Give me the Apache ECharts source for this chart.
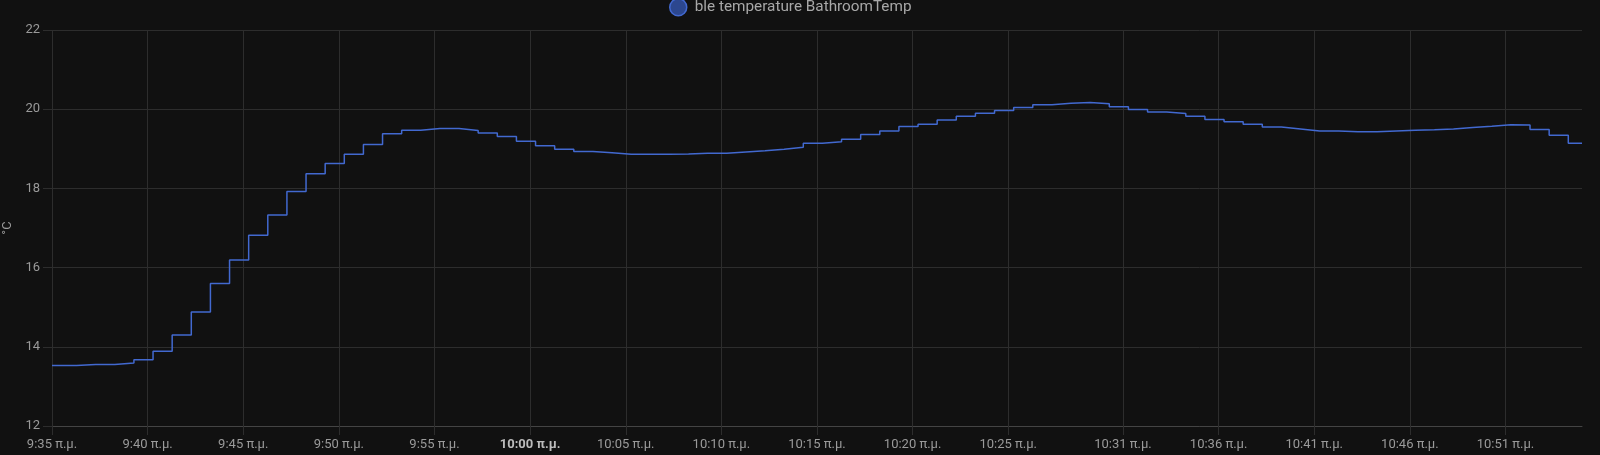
<!DOCTYPE html>
<html>
<head>
<meta charset="utf-8">
<script src="https://cdn.jsdelivr.net/npm/echarts@6/dist/echarts.min.js"></script>
<style>
html,body{margin:0;padding:0;background:#111111;}
#chart{width:1600px;height:455px;}
</style>
</head>
<body>
<div id="chart"></div>
<script>
const seriesName = 'ble temperature BathroomTemp';
const unit = '°C';
const startTime = '9:35:00';
const endTime = '10:55:00';
const tickTimes = ['9:35','9:40','9:45','9:50','9:55','10:00','10:05','10:10','10:15','10:20','10:25','10:31','10:36','10:41','10:46','10:51'];
const tickSuffix = ' π.μ.';
const times = [
 '9:35:00','9:36:17','9:37:17','9:38:17','9:39:17','9:40:17','9:41:17','9:42:17','9:43:17','9:44:17',
 '9:45:17','9:46:17','9:47:17','9:48:17','9:49:17','9:50:17','9:51:17','9:52:17','9:53:17','9:54:17',
 '9:55:17','9:56:17','9:57:17','9:58:17','9:59:17','10:00:17','10:01:17','10:02:17','10:03:17','10:04:17',
 '10:05:17','10:06:17','10:07:17','10:08:17','10:09:17','10:10:17','10:11:17','10:12:17','10:13:17','10:14:17',
 '10:15:17','10:16:17','10:17:17','10:18:17','10:19:17','10:20:17','10:21:17','10:22:17','10:23:17','10:24:17',
 '10:25:17','10:26:17','10:27:17','10:28:17','10:29:17','10:30:17','10:31:17','10:32:17','10:33:17','10:34:17',
 '10:35:17','10:36:17','10:37:17','10:38:17','10:39:17','10:40:17','10:41:17','10:42:17','10:43:17','10:44:17',
 '10:45:17','10:46:17','10:47:17','10:48:17','10:49:17','10:50:17','10:51:17','10:52:17','10:53:17','10:54:17',
 '10:55:00'
];
const temps = [
 13.53,13.55,13.55,13.59,13.67,13.89,14.30,14.88,15.60,16.19,
 16.82,17.33,17.92,18.37,18.63,18.86,19.11,19.38,19.47,19.51,
 19.51,19.46,19.40,19.31,19.19,19.08,18.99,18.93,18.90,18.86,
 18.86,18.86,18.87,18.89,18.89,18.92,18.95,18.99,19.04,19.14,
 19.18,19.24,19.36,19.45,19.56,19.62,19.73,19.82,19.90,19.97,
 20.04,20.11,20.15,20.17,20.14,20.06,19.99,19.93,19.89,19.82,
 19.74,19.68,19.62,19.55,19.50,19.45,19.45,19.43,19.43,19.45,
 19.47,19.48,19.50,19.54,19.57,19.61,19.60,19.49,19.34,19.14,
 19.14
];
const boldTick = '10:00';

function toMin(s){
  const p = s.split(':').map(Number);
  const b = startTime.split(':').map(Number);
  return (p[0]*60 + p[1] + (p[2]||0)/60) - (b[0]*60 + b[1] + (b[2]||0)/60);
}
const tickValues = tickTimes.map(toMin);
const labelByValue = {};
tickTimes.forEach((t,i)=>{ labelByValue[tickValues[i].toFixed(3)] = t; });
const data = times.map((t,i)=>[toMin(t), temps[i]]);

const gridColor = '#2d2d2d';
const labelColor = '#9a9a9a';
const chart = echarts.init(document.getElementById('chart'), null, {renderer:'canvas'});
chart.setOption({
  backgroundColor: '#111111',
  animation: false,
  textStyle: {fontFamily: 'Roboto'},
  legend: {
    show: true,
    left: 664,
    top: -7,
    icon: 'circle',
    itemWidth: 17,
    itemHeight: 17,
    itemGap: 10,
    textStyle: {color: '#a8a8a8', fontSize: 15.3, fontFamily: 'Roboto', padding: [0,0,0,3]},
    data: [{name: seriesName, itemStyle: {color: '#2c478f', borderColor: '#4269d0', borderWidth: 1.5}}]
  },
  grid: {left: 52, right: 18, top: 30, bottom: 29, containLabel: false, outerBoundsMode: 'none'},
  xAxis: {
    type: 'value',
    min: 0,
    max: toMin(endTime),
    axisLine: {show: true, lineStyle: {color: '#444444', width: 1}},
    axisTick: {show: true, length: 9, customValues: tickValues, lineStyle: {color: gridColor}},
    splitLine: {show: true, lineStyle: {color: gridColor, width: 1}},
    axisLabel: {
      customValues: tickValues,
      margin: 12,
      color: labelColor,
      fontSize: 13,
      fontFamily: 'Roboto',
      hideOverlap: false,
      formatter: function(v){
        const t = labelByValue[v.toFixed(3)] || '';
        if (t === boldTick) return '{b|' + t + tickSuffix + '}';
        return t + tickSuffix;
      },
      rich: {b: {fontWeight: 'bold', color: '#bcbcbc', fontSize: 13, fontFamily: 'Roboto'}}
    }
  },
  yAxis: {
    type: 'value',
    min: 12,
    max: 22,
    interval: 2,
    name: unit,
    nameLocation: 'middle',
    nameGap: 37,
    nameRotate: 90,
    nameTextStyle: {color: labelColor, fontSize: 13, fontFamily: 'Roboto'},
    axisLine: {show: false},
    axisTick: {show: true, length: 9, lineStyle: {color: gridColor}},
    splitLine: {show: true, lineStyle: {color: gridColor, width: 1}},
    axisLabel: {color: labelColor, fontSize: 13, margin: 12, fontFamily: 'Roboto'}
  },
  series: [{
    name: seriesName,
    type: 'line',
    step: 'end',
    data: data,
    showSymbol: false,
    symbol: 'none',
    lineStyle: {color: '#4269d0', width: 1.5},
    itemStyle: {color: '#4269d0'},
    clip: true
  }]
});
</script>
</body>
</html>
